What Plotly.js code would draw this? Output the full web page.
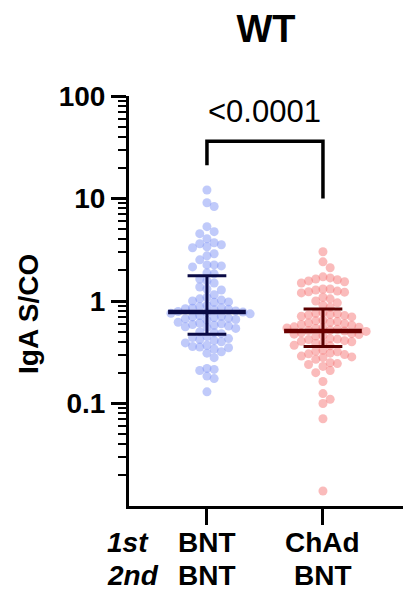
<!DOCTYPE html>
<html>
<head>
<meta charset="utf-8">
<script src="https://cdn.plot.ly/plotly-3.0.1.min.js"></script>
<style>html,body{margin:0;padding:0;background:#fff;}#chart{width:403px;height:591px;}</style>
</head>
<body>
<div id="chart"></div>
<script>
// ---- data ----
const firstDose = ['BNT', 'ChAd'];
const secondDose = ['BNT', 'BNT'];
const rowLabels = ['1st', '2nd'];

const bntBntValues = [12.1, 9.1, 8.35, 5.31, 4.75, 4.54, 4.05, 3.70, 3.62, 3.54, 3.38, 3.31, 2.89, 2.76, 2.52,
  2.25, 2.25, 2.20, 2.15, 1.88, 1.84, 1.64, 1.57, 1.50, 1.37, 1.31, 1.28, 1.15, 1.09, 1.05, 1.02, 1.00, 0.98, 0.97,
  0.91, 0.88, 0.86, 0.85, 0.84, 0.83, 0.82, 0.80, 0.79, 0.78, 0.77, 0.76, 0.75, 0.72, 0.71, 0.70, 0.69, 0.68, 0.67,
  0.66, 0.65, 0.62, 0.61, 0.60, 0.59, 0.58, 0.57, 0.56, 0.55, 0.54, 0.50, 0.49, 0.48, 0.45, 0.44, 0.43, 0.42, 0.41,
  0.40, 0.39, 0.37, 0.36, 0.355, 0.35, 0.34, 0.32, 0.31, 0.28, 0.22, 0.215, 0.21, 0.185, 0.175, 0.13];

const chadBntValues = [3.02, 2.41, 2.11, 1.72, 1.68, 1.64, 1.61, 1.57, 1.54, 1.50, 1.31, 1.31, 1.28, 1.25, 1.23,
  1.22, 1.20, 1.09, 1.05, 1.00, 0.96, 0.91, 0.87, 0.77, 0.76, 0.75, 0.74, 0.73, 0.72, 0.71, 0.70, 0.65, 0.64, 0.63,
  0.62, 0.61, 0.60, 0.59, 0.58, 0.56, 0.555, 0.55, 0.545, 0.54, 0.53, 0.52, 0.515, 0.51, 0.505, 0.49, 0.48, 0.475,
  0.47, 0.46, 0.455, 0.43, 0.425, 0.42, 0.41, 0.405, 0.40, 0.39, 0.385, 0.37, 0.365, 0.33, 0.325, 0.32, 0.31, 0.305,
  0.30, 0.29, 0.285, 0.28, 0.27, 0.25, 0.245, 0.24, 0.23, 0.21, 0.20, 0.164, 0.125, 0.11, 0.10, 0.071, 0.014];

const medians = [0.78, 0.51];
const q1 = [0.475, 0.36];
const q3 = [1.76, 0.835];

const yTickVals = [0.1, 1, 10, 100];
const yTickText = ['0.1', '1', '10', '100'];
const yTitle = 'IgA S/CO';
const chartTitle = 'WT';
const pValueText = '&lt;0.0001';

// ---- layout geometry ----
const W = 403, H = 591;
const M = {l: 129, r: 0, t: 96, b: 85};
const plotH = H - M.t - M.b;
const plotW = W - M.l - M.r;
const xRange = [-0.672, 1.69];
const yRange = [-2, 2];
const pxPerX = plotW / (xRange[1] - xRange[0]);
const pxPerDecade = plotH / (yRange[1] - yRange[0]);
const py = p => (H - M.b - p) / plotH;   // pixel row -> paper y
const px = p => (p - M.l) / plotW;       // pixel col -> paper x

const FONT = 'Arial, "Liberation Sans", Helvetica, sans-serif';
const dotColors = ['rgba(130,150,245,0.5)', 'rgba(245,120,120,0.5)'];
const barColors = ['#0a0a45', '#5a0000'];
const medColors = ['#0a0a45', '#6a0000'];

// beeswarm offsets computed from the values (pixel-space collision avoidance)
function swarm(values, step, dist) {
  const idx = values.map((v, i) => i).sort((a, b) => values[b] - values[a]);
  const placed = [];
  const off = new Array(values.length).fill(0);
  idx.forEach(i => {
    const yp = Math.log10(values[i]) * pxPerDecade;
    for (let k = 0; k < 60; k++) {
      const kk = k === 0 ? 0 : (k % 2 === 1 ? Math.ceil(k / 2) : -k / 2);
      const xp = kk * step;
      let ok = true;
      for (const p of placed) {
        const dx = p[0] - xp, dy = p[1] - yp;
        if (dx * dx + dy * dy < dist * dist - 1e-6) { ok = false; break; }
      }
      if (ok) { placed.push([xp, yp]); off[i] = xp / pxPerX; break; }
    }
  });
  return off;
}

const groupsValues = [bntBntValues, chadBntValues];
const traces = [];
groupsValues.forEach((vals, g) => {
  const off = swarm(vals, 7.2, 7.2);
  traces.push({
    type: 'scatter', mode: 'markers',
    x: vals.map((v, i) => g + off[i]), y: vals,
    marker: {size: 9, color: dotColors[g], line: {width: 0}},
    hoverinfo: 'skip', showlegend: false
  });
});
// median + IQR
const medHalf = 0.335, capHalf = 0.167;
groupsValues.forEach((vals, g) => {
  traces.push({type: 'scatter', mode: 'lines', x: [g, g], y: [q1[g], q3[g]],
    line: {color: barColors[g], width: 3}, hoverinfo: 'skip', showlegend: false});
  traces.push({type: 'scatter', mode: 'lines', x: [g - capHalf, g + capHalf], y: [q3[g], q3[g]],
    line: {color: barColors[g], width: 3}, hoverinfo: 'skip', showlegend: false});
  traces.push({type: 'scatter', mode: 'lines', x: [g - capHalf, g + capHalf], y: [q1[g], q1[g]],
    line: {color: barColors[g], width: 3}, hoverinfo: 'skip', showlegend: false});
  traces.push({type: 'scatter', mode: 'lines', x: [g - medHalf, g + medHalf], y: [medians[g], medians[g]],
    line: {color: medColors[g], width: 4.5}, hoverinfo: 'skip', showlegend: false});
});
// significance bracket
traces.push({type: 'scatter', mode: 'lines', x: [0, 0, 1, 1], y: [21.1, 36.2, 36.2, 10.0],
  line: {color: '#000', width: 3.5}, hoverinfo: 'skip', showlegend: false, cliponaxis: false});

const minorVals = [];
for (let d = -2; d <= 1; d++) for (let k = 2; k <= 9; k++) minorVals.push(k * Math.pow(10, d));

const boldFont = size => ({family: FONT, size: size, weight: 'bold', color: '#000'});
const annotations = [
  {text: pValueText, xref: 'x', x: 0.5, yref: 'paper', y: py(111),
    showarrow: false, xanchor: 'center', yanchor: 'middle',
    font: {family: FONT, size: 31, color: '#000'}},
  {text: yTitle, xref: 'paper', x: px(28), yref: 'paper', y: py(314), textangle: -90,
    showarrow: false, xanchor: 'center', yanchor: 'middle', font: boldFont(28)}
];
const rowY = [542, 575];
rowLabels.forEach((t, r) => annotations.push({
  text: t, xref: 'paper', x: px(106), yref: 'paper', y: py(rowY[r]),
  showarrow: false, xanchor: 'left', yanchor: 'middle', borderpad: 0,
  font: {family: FONT, size: 28, weight: 'bold', style: 'italic', color: '#000'}}));
[firstDose, secondDose].forEach((row, r) => row.forEach((t, g) => annotations.push({
  text: t, xref: 'x', x: g, yref: 'paper', y: py(rowY[r]), borderpad: 0,
  showarrow: false, xanchor: 'center', yanchor: 'middle', font: boldFont(28)})));

const layout = {
  width: W, height: H,
  margin: {l: M.l, r: M.r, t: M.t, b: M.b, pad: 0},
  paper_bgcolor: '#fff', plot_bgcolor: '#fff',
  font: {family: FONT, color: '#000'},
  title: {text: chartTitle, font: boldFont(38),
    x: 0.5, xref: 'paper', xanchor: 'center', y: 1 - 29 / H, yref: 'container', yanchor: 'middle'},
  xaxis: {
    range: xRange, showgrid: false, zeroline: false,
    showline: true, linewidth: 3, linecolor: '#000',
    ticks: 'outside', ticklen: 16, tickwidth: 3, tickcolor: '#000',
    tickmode: 'array', tickvals: [0, 1], showticklabels: false
  },
  yaxis: {
    type: 'log', range: yRange, showgrid: false, zeroline: false,
    showline: true, linewidth: 3, linecolor: '#000',
    ticks: 'outside', ticklen: 15, tickwidth: 3, tickcolor: '#000',
    tickmode: 'array', tickvals: yTickVals, ticktext: yTickText,
    tickfont: boldFont(28),
    minor: {tickmode: 'array', tickvals: minorVals, ticks: 'outside', ticklen: 8, tickwidth: 2, tickcolor: '#000', showgrid: false}
  },
  annotations: annotations
};

Plotly.newPlot('chart', traces, layout, {displayModeBar: false, staticPlot: true});
</script>
</body>
</html>
